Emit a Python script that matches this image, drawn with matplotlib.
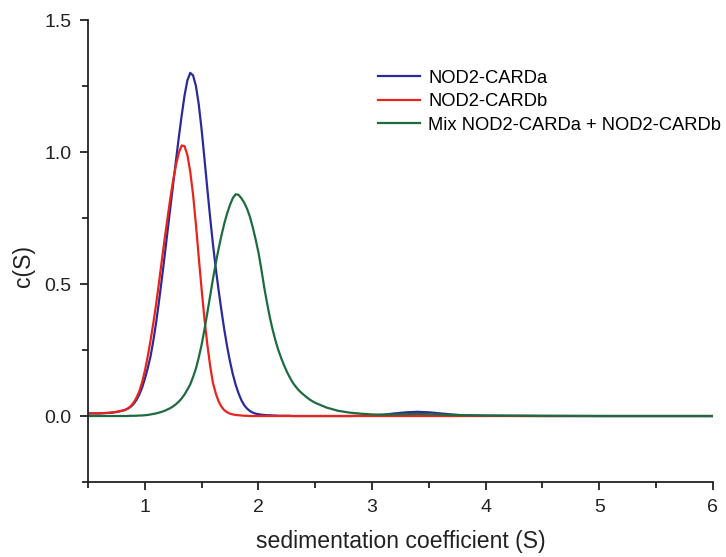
import matplotlib.pyplot as plt
from matplotlib.ticker import MultipleLocator

plt.rcParams['font.family'] = ['Liberation Sans', 'DejaVu Sans']

# sedimentation coefficient grid (S), finer across the peaks
s = [0.50, 0.60, 0.70, 0.75,
     0.800, 0.825, 0.850, 0.875, 0.900, 0.925, 0.950, 0.975, 1.000, 1.025,
     1.050, 1.075, 1.100, 1.125, 1.150, 1.175, 1.200, 1.225, 1.250, 1.275,
     1.300, 1.325, 1.350, 1.375, 1.400, 1.425, 1.450, 1.475, 1.500, 1.525,
     1.550, 1.575, 1.600, 1.625, 1.650, 1.675, 1.700, 1.725, 1.750, 1.775,
     1.800, 1.825, 1.850, 1.875, 1.900, 1.925, 1.950, 1.975, 2.000, 2.025,
     2.050, 2.075, 2.100, 2.125, 2.150, 2.175, 2.200, 2.225, 2.250, 2.275,
     2.300, 2.325, 2.350, 2.375, 2.400, 2.425, 2.450, 2.475, 2.500,
     2.60, 2.70, 2.80, 2.90, 3.00, 3.10, 3.20, 3.30, 3.40, 3.50, 3.60, 3.70,
     3.80, 4.00, 4.50, 5.00, 5.50, 6.00]

# c(S)
card_a = [0.010, 0.010, 0.012, 0.015,
          0.020, 0.023, 0.028, 0.035, 0.045, 0.060, 0.080, 0.106, 0.140, 0.180,
          0.225, 0.285, 0.355, 0.435, 0.520, 0.608, 0.700, 0.790, 0.880, 0.970,
          1.058, 1.140, 1.215, 1.272, 1.300, 1.290, 1.250, 1.180, 1.085, 0.975,
          0.862, 0.752, 0.650, 0.558, 0.475, 0.398, 0.326, 0.262, 0.206, 0.158,
          0.118, 0.086, 0.060, 0.041, 0.028, 0.019, 0.013, 0.009, 0.007, 0.005,
          0.004, 0.003, 0.003, 0.002, 0.002, 0.001, 0.001, 0.001, 0.001, 0.001,
          0.000, 0.000, 0.000, 0.000, 0.000, 0.000, 0.000, 0.000, 0.000,
          0.000, 0.000, 0.000, 0.001, 0.002, 0.005, 0.010, 0.014, 0.016, 0.014,
          0.010, 0.006, 0.003, 0.001, 0.000, 0.000, 0.000, 0.000]

card_b = [0.010, 0.010, 0.013, 0.016,
          0.020, 0.023, 0.028, 0.037, 0.050, 0.068, 0.092, 0.126, 0.170, 0.224,
          0.285, 0.352, 0.425, 0.506, 0.590, 0.672, 0.750, 0.826, 0.895, 0.952,
          0.998, 1.025, 1.022, 0.988, 0.925, 0.838, 0.725, 0.600, 0.480, 0.368,
          0.272, 0.190, 0.125, 0.085, 0.055, 0.035, 0.022, 0.014, 0.009, 0.006,
          0.004, 0.003, 0.002, 0.001, 0.001, 0.000, 0.000, 0.000, 0.000, 0.000,
          0.000, 0.000, 0.000, 0.000, 0.000, 0.000, 0.000, 0.000, 0.000, 0.000,
          0.000, 0.000, 0.000, 0.000, 0.000, 0.000, 0.000, 0.000, 0.000,
          0.000, 0.000, 0.000, 0.000, 0.000, 0.000, 0.000, 0.000, 0.000, 0.000,
          0.000, 0.000, 0.000, 0.000, 0.000, 0.000, 0.000, 0.000]

mix = [0.000, 0.000, 0.000, 0.000,
       0.000, 0.000, 0.000, 0.001, 0.001, 0.001, 0.002, 0.002, 0.003, 0.004,
       0.006, 0.008, 0.010, 0.013, 0.016, 0.020, 0.025, 0.030, 0.037, 0.045,
       0.055, 0.067, 0.082, 0.100, 0.120, 0.148, 0.180, 0.222, 0.270, 0.328,
       0.390, 0.455, 0.520, 0.580, 0.635, 0.685, 0.730, 0.768, 0.800, 0.826,
       0.840, 0.838, 0.825, 0.808, 0.785, 0.755, 0.715, 0.670, 0.620, 0.558,
       0.490, 0.430, 0.375, 0.327, 0.286, 0.250, 0.220, 0.193, 0.168, 0.147,
       0.128, 0.113, 0.100, 0.089, 0.080, 0.071, 0.063, 0.056, 0.050,
       0.032, 0.020, 0.013, 0.009, 0.006, 0.005, 0.006, 0.007, 0.008, 0.007,
       0.006, 0.004, 0.003, 0.002, 0.001, 0.000, 0.000, 0.000]

labels = ['NOD2-CARDa', 'NOD2-CARDb', 'Mix NOD2-CARDa + NOD2-CARDb']
colors = ['#2a2a9c', '#e8241c', '#1d6b3e']

fig = plt.figure(figsize=(7.26, 5.57), dpi=100)
ax = fig.add_axes([0.1212, 0.1346, 0.8608, 0.8294])

for y, lab, col in zip([card_a, card_b, mix], labels, colors):
    ax.plot(s, y, color=col, lw=1.6, label=lab)

ax.set_xlim(0.5, 6)
ax.set_ylim(-0.25, 1.5)
ax.xaxis.set_major_locator(MultipleLocator(1))
ax.xaxis.set_minor_locator(MultipleLocator(0.5))
ax.yaxis.set_major_locator(MultipleLocator(0.5))
ax.yaxis.set_minor_locator(MultipleLocator(0.25))
ax.yaxis.set_major_formatter(plt.FormatStrFormatter('%.1f'))

for side in ['top', 'right']:
    ax.spines[side].set_visible(False)
for side in ['left', 'bottom']:
    ax.spines[side].set_linewidth(1.3)
    ax.spines[side].set_color('#222222')

ax.tick_params(which='major', direction='out', length=6, width=1.3,
               labelsize=14, colors='#222222', pad=6)
ax.tick_params(which='minor', direction='out', length=4, width=1.3,
               colors='#222222')

ax.set_xlabel('sedimentation coefficient (S)', fontsize=16.6, color='#222222', labelpad=10)
ax.set_ylabel('c(S)', fontsize=16.6, color='#222222')
ax.yaxis.set_label_coords(-0.084, 0.4675)

ax.legend(loc='upper left', bbox_to_anchor=(0.452, 0.908), frameon=False,
          fontsize=13.2, handlelength=2.3, handletextpad=0.45,
          labelspacing=0.35, borderaxespad=0)

fig.savefig('out.png', dpi=100)
